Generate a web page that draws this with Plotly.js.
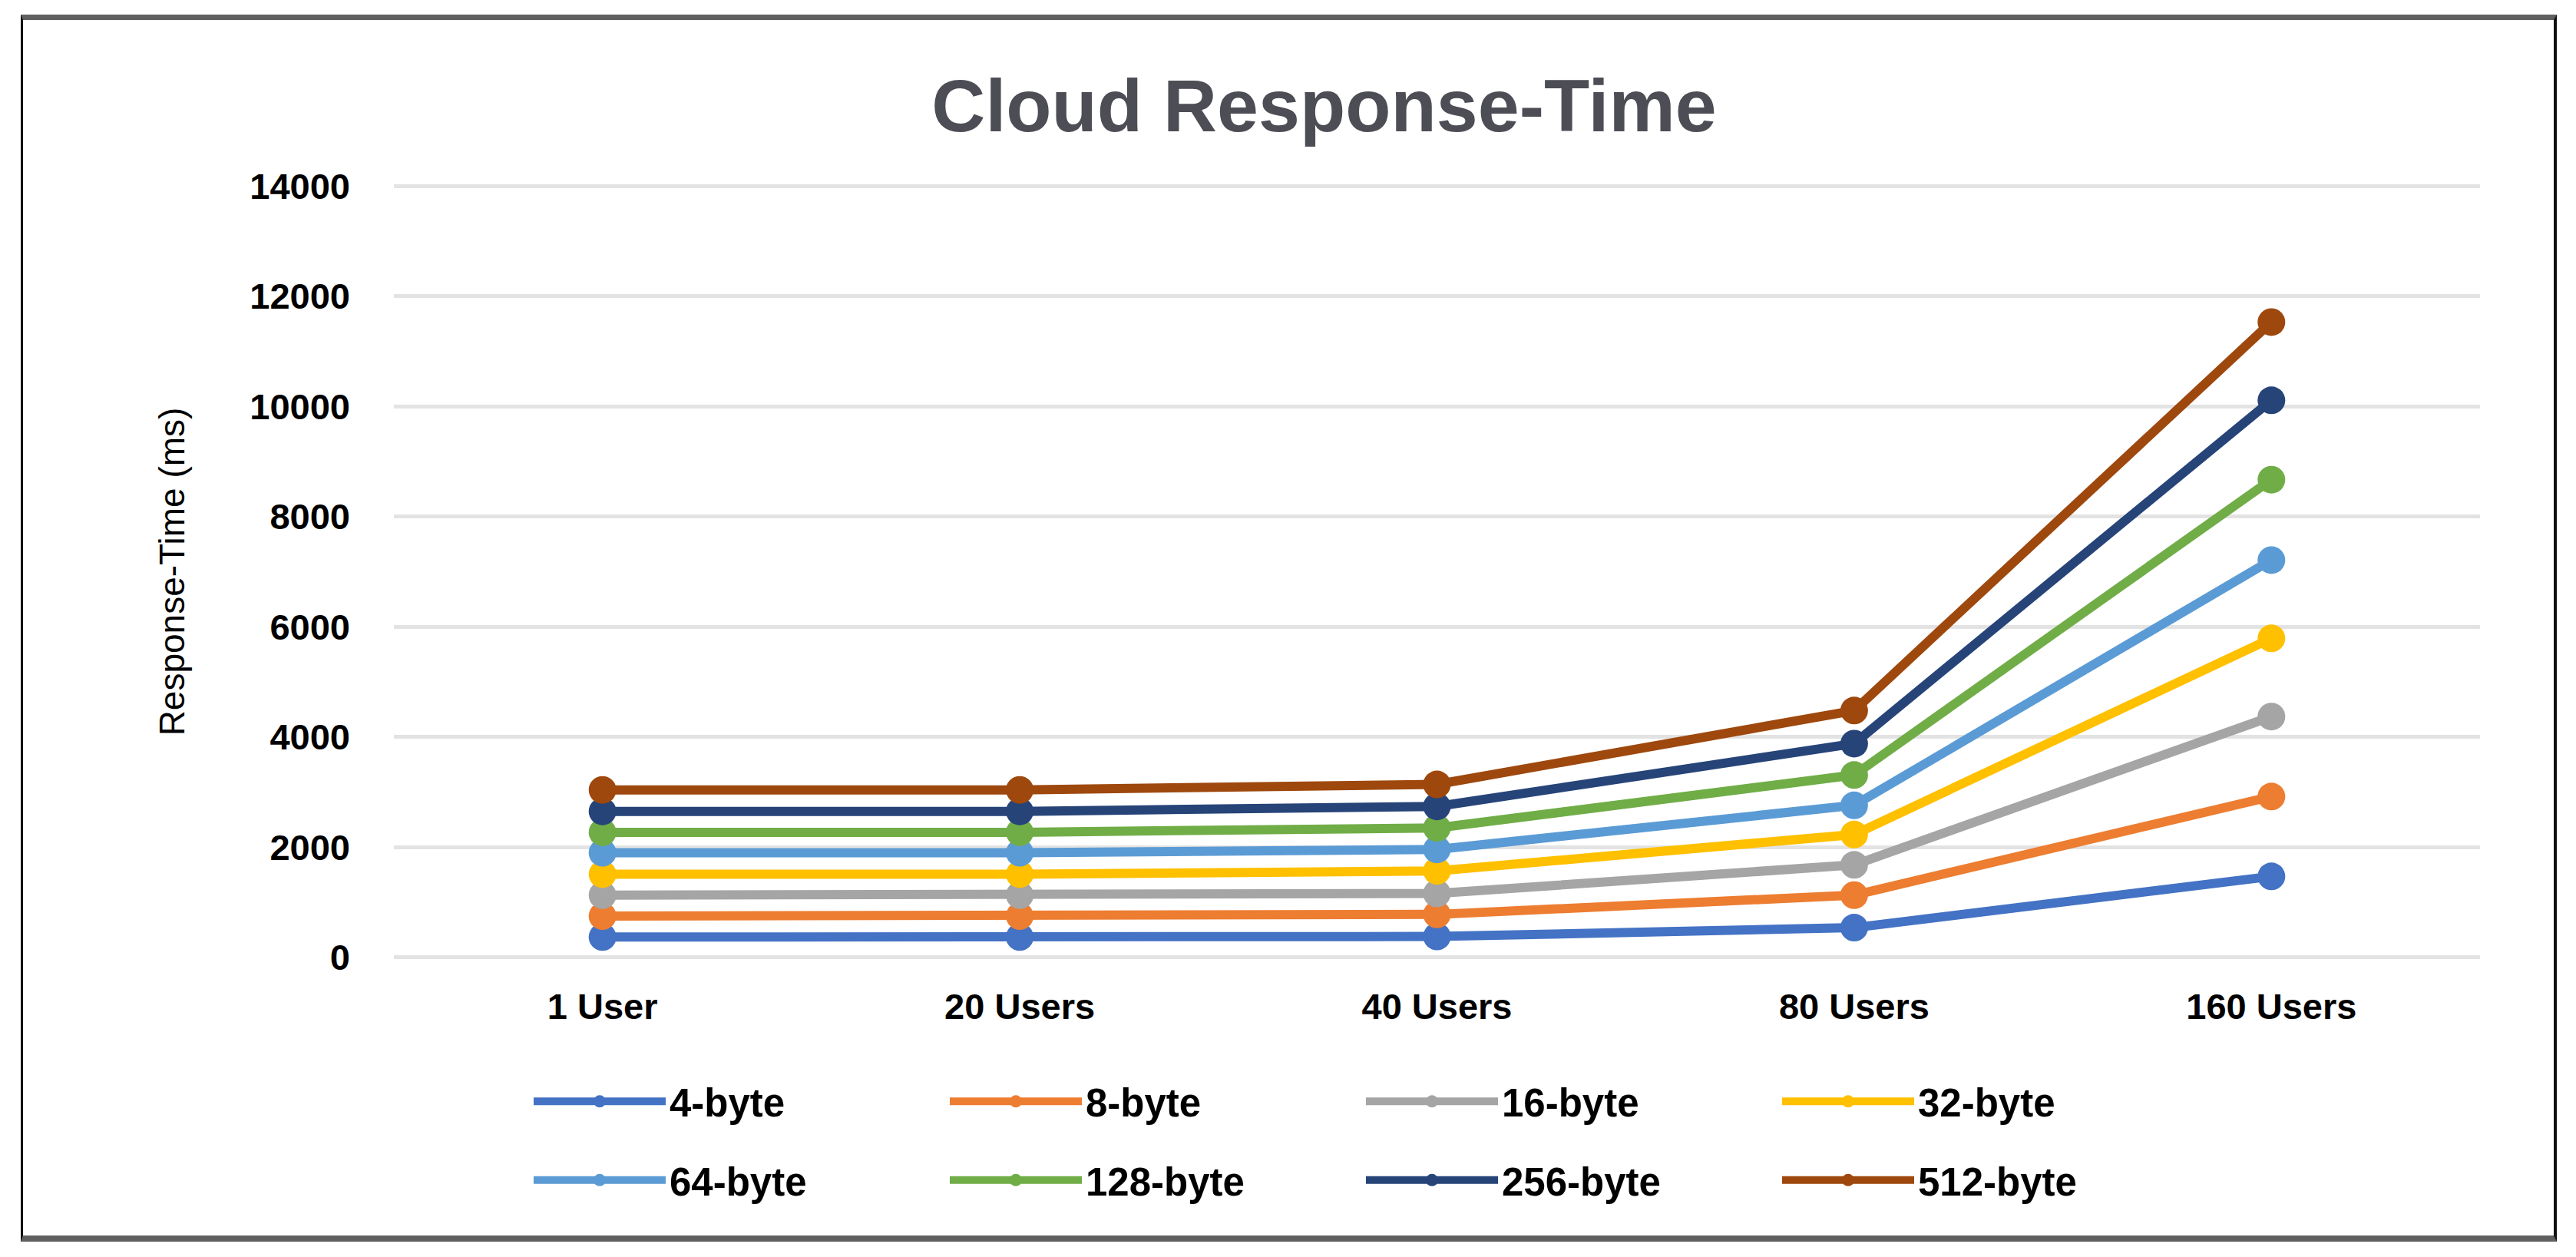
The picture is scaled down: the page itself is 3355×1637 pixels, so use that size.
<!DOCTYPE html>
<html>
<head>
<meta charset="utf-8">
<script src="https://cdn.plot.ly/plotly-3.0.1.min.js"></script>
<style>
  html, body { margin: 0; padding: 0; background: #ffffff; }
  #chart { position: absolute; left: 0; top: 0; width: 3355px; height: 1637px; }
  #frame {
    position: absolute; left: 27px; top: 19px; width: 3303px; height: 1598px;
    box-sizing: border-box; pointer-events: none;
    border-top: 7px solid #5f5f5f; border-bottom: 8px solid #5f5f5f;
    border-left: 3px solid #111111; border-right: 4px solid #111111;
  }
</style>
</head>
<body>
<div id="chart"></div>
<div id="frame"></div>
<script>
// ---- data ----
const categories = ['1 User', '20 Users', '40 Users', '80 Users', '160 Users'];
const seriesNames = ['4-byte', '8-byte', '16-byte', '32-byte', '64-byte', '128-byte', '256-byte', '512-byte'];
const byte4   = [370, 370, 380, 540, 1470];
const byte8   = [750, 750, 780, 1130, 2920];
const byte16  = [1130, 1130, 1160, 1680, 4370];
const byte32  = [1510, 1510, 1570, 2230, 5790];
const byte64  = [1900, 1900, 1960, 2760, 7210];
const byte128 = [2270, 2270, 2350, 3310, 8670];
const byte256 = [2650, 2650, 2740, 3880, 10110];
const byte512 = [3040, 3040, 3140, 4480, 11530];
const yTickVals = [0, 2000, 4000, 6000, 8000, 10000, 12000, 14000];
const yTickText = ['0', '2000', '4000', '6000', '8000', '10000', '12000', '14000'];
const colors = ['#4472C4', '#ED7D31', '#A5A5A5', '#FFC000', '#5B9BD5', '#70AD47', '#264478', '#9E480E'];

const seriesValues = [byte4, byte8, byte16, byte32, byte64, byte128, byte256, byte512];

const traces = seriesValues.map((vals, i) => ({
  type: 'scatter',
  mode: 'lines+markers',
  name: seriesNames[i],
  x: categories,
  y: vals,
  line: { color: colors[i], width: 12 },
  marker: { color: colors[i], size: 36 },
  legend: i < 4 ? 'legend' : 'legend2'
}));

const tickFont = { family: 'Liberation Sans, Arial, sans-serif', size: 47, weight: 700, color: '#000000' };
const legendCommon = {
  orientation: 'h',
  xanchor: 'left',
  yanchor: 'middle',
  entrywidth: 355,
  entrywidthmode: 'pixels',
  itemwidth: 172,
  bgcolor: 'rgba(0,0,0,0)',
  borderwidth: 0,
  traceorder: 'normal',
  font: { family: 'Liberation Sans, Arial, sans-serif', size: 51, weight: 700, color: '#000000' }
};

const layout = {
  width: 3355,
  height: 1637,
  paper_bgcolor: '#ffffff',
  plot_bgcolor: '#ffffff',
  margin: { l: 513, r: 125, t: 240, b: 388 },
  title: {
    text: 'Cloud Response-Time',
    font: { family: 'Liberation Sans, Arial, sans-serif', size: 97, weight: 700, color: '#4d4d55' },
    xref: 'container', yref: 'container',
    x: 0.514, xanchor: 'center',
    y: 0.916, yanchor: 'middle'
  },
  xaxis: {
    type: 'category',
    range: [-0.5, 4.5],
    showgrid: false,
    showline: false,
    zeroline: false,
    ticks: '',
    tickfont: tickFont,
    ticklabelstandoff: 30
  },
  yaxis: {
    range: [-30, 14030],
    tickvals: yTickVals,
    ticktext: yTickText,
    showgrid: true,
    gridcolor: '#e3e3e3',
    gridwidth: 5,
    zeroline: false,
    showline: false,
    ticks: '',
    tickfont: tickFont,
    ticklabelstandoff: 56,
    title: {
      text: 'Response-Time (ms)',
      font: { family: 'Liberation Sans, Arial, sans-serif', size: 46, color: '#000000' },
      standoff: 70
    }
  },
  legend: Object.assign({}, legendCommon, { x: (690 - 513) / 2717, y: -0.184 }),
  legend2: Object.assign({}, legendCommon, { x: (690 - 513) / 2717, y: -0.2856 }),
  showlegend: true
};

Plotly.newPlot('chart', traces, layout, { displayModeBar: false, responsive: false });
</script>
</body>
</html>
